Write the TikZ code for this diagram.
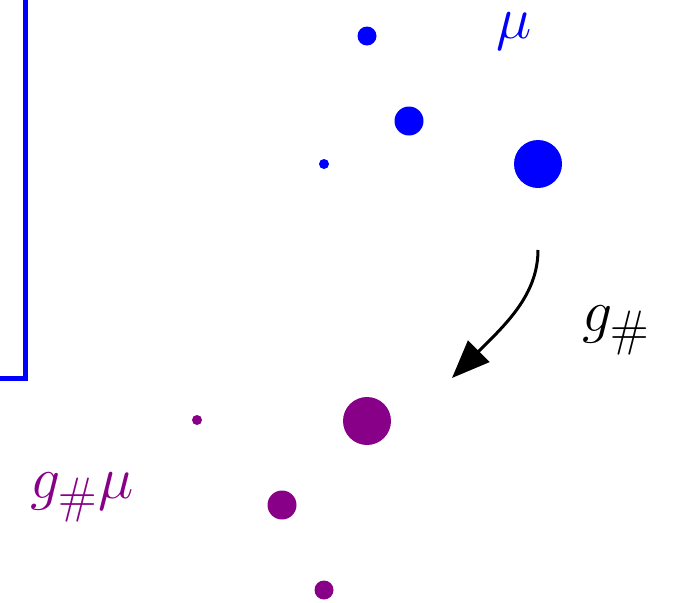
\documentclass[tikz,border=0pt]{standalone}
\usepackage{graphicx}
\usetikzlibrary{arrows.meta}
\definecolor{mblue}{RGB}{0,0,255}
\definecolor{mpurple}{RGB}{136,0,136}
\newcommand{\biglbl}[1]{\scalebox{2.4}{\Huge #1}}
\tikzset{
  dot/.style={circle,fill,inner sep=0pt,minimum size=#1},
  lbl/.style={inner sep=0pt},
}
\begin{document}
\begin{tikzpicture}[x=1pt,y=-1pt]
\useasboundingbox (0,0) rectangle (673,603);
\clip (0,0) rectangle (673,603);
% frame corner
\draw[mblue, line width=5pt] (25,-10) -- (25,378) -- (-10,378);
% blue measure
\node[dot=19, mblue] (b1) at (367,36) {};
\node[dot=29, mblue] (b2) at (409,121) {};
\node[dot=10, mblue] (b3) at (324,164) {};
\node[dot=48, mblue] (b4) at (538,164) {};
\node[lbl, text=mblue] (mu) at (514,31) {\biglbl{$\mu$}};
% purple measure
\node[dot=10, mpurple] (p1) at (197,420) {};
\node[dot=48, mpurple] (p2) at (367,421) {};
\node[dot=29, mpurple] (p3) at (282,505) {};
\node[dot=19, mpurple] (p4) at (324,590) {};
\node[lbl, text=mpurple] (gmu) at (82,497) {\biglbl{$g_\#\mu$}};
% arrow
\coordinate (a0) at (538,250);
\coordinate (a1) at (452,378);
\draw[line width=3pt, -{Triangle[length=38pt,width=30pt]}] (a0) .. controls (538,295) and (505,325) .. (a1);
\node[lbl] (g) at (616,330) {\biglbl{$g_\#$}};
\end{tikzpicture}
\end{document}
